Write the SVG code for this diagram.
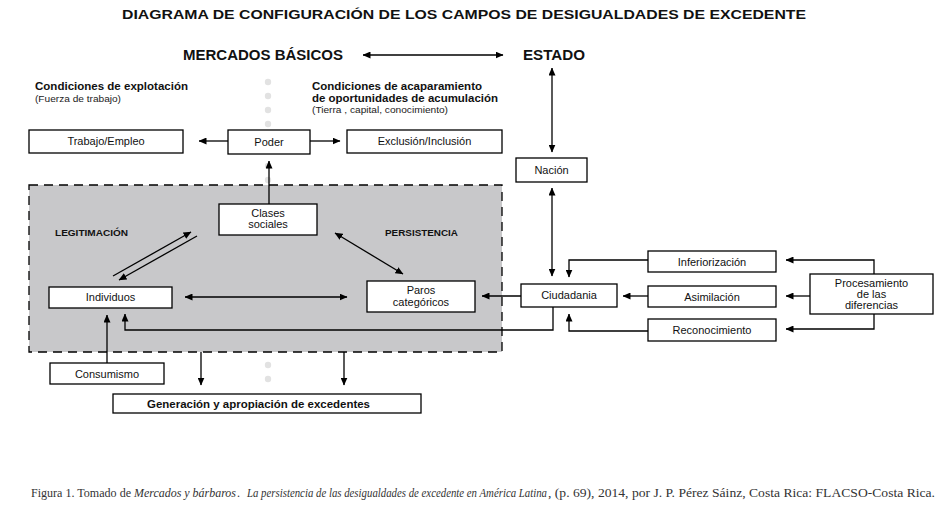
<svg xmlns="http://www.w3.org/2000/svg" width="940" height="508" viewBox="0 0 940 508">
<style>
.box{fill:#fff;stroke:#000;stroke-width:1.3}
.t{font-family:"Liberation Sans",Arial,sans-serif;font-size:11px;fill:#111;text-anchor:middle}
.b{font-family:"Liberation Sans",Arial,sans-serif;font-weight:bold;fill:#111}
.s{font-family:"Liberation Sans",Arial,sans-serif;font-size:9.5px;fill:#222}
.ln{fill:none;stroke:#000;stroke-width:1.3}
.dot{fill:#e2e2e2}
.cap{font-family:"Liberation Serif","Times New Roman",serif;font-size:12px;fill:#333}
</style>
<defs>
<marker id="ah" markerUnits="userSpaceOnUse" markerWidth="8" markerHeight="7" refX="7.5" refY="3.5" orient="auto-start-reverse">
<path d="M0,0 L8,3.5 L0,7 z" fill="#000"/>
</marker>
</defs>
<rect width="940" height="508" fill="#fff"/>
<text class="b" x="464" y="19" font-size="12.5" text-anchor="middle" textLength="684" lengthAdjust="spacingAndGlyphs">DIAGRAMA DE CONFIGURACIÓN DE LOS CAMPOS DE DESIGUALDADES DE EXCEDENTE</text>
<g id="dots">
<circle class="dot" cx="268" cy="82" r="3.2"/><circle class="dot" cx="268" cy="96" r="3.2"/><circle class="dot" cx="268" cy="110" r="3.2"/><circle class="dot" cx="268" cy="124" r="3.2"/><circle class="dot" cx="268" cy="166" r="3.2"/><circle class="dot" cx="268" cy="180" r="3.2"/><circle class="dot" cx="268" cy="365" r="3.2"/><circle class="dot" cx="268" cy="379" r="3.2"/>
</g>
<g id="headers">
<text class="b" x="183" y="60" font-size="14.5" textLength="160" lengthAdjust="spacingAndGlyphs">MERCADOS BÁSICOS</text>
<text class="b" x="523" y="60" font-size="14.5" textLength="62" lengthAdjust="spacingAndGlyphs">ESTADO</text>
<text class="b" x="35" y="90" font-size="10.5" textLength="153" lengthAdjust="spacingAndGlyphs">Condiciones de explotación</text>
<text class="s" x="35" y="102" textLength="86" lengthAdjust="spacingAndGlyphs">(Fuerza de trabajo)</text>
<text class="b" x="312" y="90" font-size="10.5" textLength="170" lengthAdjust="spacingAndGlyphs">Condiciones de acaparamiento</text>
<text class="b" x="312" y="102" font-size="10.5" textLength="186" lengthAdjust="spacingAndGlyphs">de oportunidades de acumulación</text>
<text class="s" x="312" y="113" textLength="136" lengthAdjust="spacingAndGlyphs">(Tierra , capital, conocimiento)</text>
</g>
<g id="region">
<rect x="29" y="185" width="473" height="167" fill="#c8c8ca" stroke="#000" stroke-width="1.3" stroke-dasharray="9,6"/>
<text class="b" x="55" y="236" font-size="9.5" textLength="73" lengthAdjust="spacingAndGlyphs">LEGITIMACIÓN</text>
<text class="b" x="385" y="236" font-size="9.5" textLength="73" lengthAdjust="spacingAndGlyphs">PERSISTENCIA</text>
</g>
<g id="connectors">
<path class="ln" d="M363,55 H503" marker-start="url(#ah)" marker-end="url(#ah)"/>
<path class="ln" d="M552,68 V152" marker-start="url(#ah)" marker-end="url(#ah)"/>
<path class="ln" d="M552,188 V276" marker-start="url(#ah)" marker-end="url(#ah)"/>
<path class="ln" d="M228,141 H199" marker-end="url(#ah)"/>
<path class="ln" d="M310,141 H340" marker-end="url(#ah)"/>
<path class="ln" d="M269,204 V161" marker-end="url(#ah)"/>
<path class="ln" d="M113,276 L191,232" marker-end="url(#ah)"/>
<path class="ln" d="M197,236 L119,280" marker-end="url(#ah)"/>
<path class="ln" d="M335,233 L403,274" marker-start="url(#ah)" marker-end="url(#ah)"/>
<path class="ln" d="M185,297 H347" marker-start="url(#ah)" marker-end="url(#ah)"/>
<path class="ln" d="M521,296 H482" marker-end="url(#ah)"/>
<path class="ln" d="M553,307 V330 H125 V314" marker-end="url(#ah)"/>
<path class="ln" d="M107,363 V315" marker-end="url(#ah)"/>
<path class="ln" d="M201,352 V385" marker-end="url(#ah)"/>
<path class="ln" d="M344,352 V385" marker-end="url(#ah)"/>
<path class="ln" d="M648,260 H569 V277" marker-end="url(#ah)"/>
<path class="ln" d="M648,296 H623" marker-end="url(#ah)"/>
<path class="ln" d="M648,331 H569 V314" marker-end="url(#ah)"/>
<path class="ln" d="M874,274 V260 H786" marker-end="url(#ah)"/>
<path class="ln" d="M810,296 H786" marker-end="url(#ah)"/>
<path class="ln" d="M874,314 V329 H786" marker-end="url(#ah)"/>
</g>
<g id="trabajo"><rect class="box" x="29" y="130" width="154" height="23"/><text class="t" x="106" y="145">Trabajo/Empleo</text></g>
<g id="poder"><rect class="box" x="228" y="130" width="82" height="24"/><text class="t" x="269" y="146">Poder</text></g>
<g id="exclusion"><rect class="box" x="347" y="130" width="155" height="23"/><text class="t" x="424.5" y="145">Exclusión/Inclusión</text></g>
<g id="nacion"><rect class="box" x="516" y="158" width="71" height="24"/><text class="t" x="551.5" y="174">Nación</text></g>
<g id="clases"><rect class="box" x="219" y="204" width="98" height="31"/><text class="t" x="268" y="217">Clases</text><text class="t" x="268" y="228">sociales</text></g>
<g id="individuos"><rect class="box" x="49" y="287" width="123" height="21"/><text class="t" x="110.5" y="301">Individuos</text></g>
<g id="paros"><rect class="box" x="367" y="281" width="108" height="31"/><text class="t" x="421" y="294">Paros</text><text class="t" x="421" y="306">categóricos</text></g>
<g id="ciudadania"><rect class="box" x="521" y="284" width="96" height="23"/><text class="t" x="569" y="299">Ciudadania</text></g>
<g id="inferiorizacion"><rect class="box" x="648" y="251" width="128" height="21"/><text class="t" x="712" y="265.5">Inferiorización</text></g>
<g id="asimilacion"><rect class="box" x="648" y="286" width="128" height="21"/><text class="t" x="712" y="300.5">Asimilación</text></g>
<g id="reconocimiento"><rect class="box" x="648" y="319" width="128" height="22"/><text class="t" x="712" y="334">Reconocimiento</text></g>
<g id="procesamiento"><rect class="box" x="810" y="274" width="123" height="40"/><text class="t" x="871.5" y="287">Procesamiento</text><text class="t" x="871.5" y="298">de las</text><text class="t" x="871.5" y="308.5">diferencias</text></g>
<g id="consumismo"><rect class="box" x="50" y="363" width="114" height="21"/><text class="t" x="107" y="377.5">Consumismo</text></g>
<g id="generacion"><rect class="box" x="113" y="394" width="308" height="19"/><text class="b" x="147" y="407.5" font-size="10" textLength="223" lengthAdjust="spacingAndGlyphs">Generación y apropiación de excedentes</text></g>
<g id="caption">
<text class="cap" x="31" y="497" textLength="100" lengthAdjust="spacingAndGlyphs">Figura 1. Tomado de</text>
<text class="cap" x="134" y="497" font-style="italic" textLength="102" lengthAdjust="spacingAndGlyphs">Mercados y bárbaros</text>
<text class="cap" x="237" y="497">.</text>
<text class="cap" x="247" y="497" font-style="italic" textLength="300" lengthAdjust="spacingAndGlyphs">La persistencia de las desigualdades de excedente en América Latina</text>
<text class="cap" x="548" y="497" textLength="387" lengthAdjust="spacingAndGlyphs">, (p. 69), 2014, por J. P. Pérez Sáinz, Costa Rica: FLACSO-Costa Rica.</text>
</g>
</svg>
